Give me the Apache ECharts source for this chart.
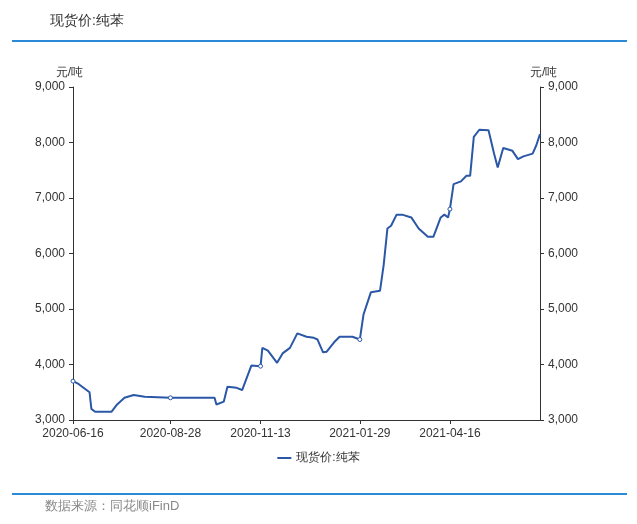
<!DOCTYPE html><html><head><meta charset="utf-8">
<script src="https://cdn.jsdelivr.net/npm/echarts@6/dist/echarts.min.js"></script>
<style>html,body{margin:0;padding:0;background:#fff}#c{width:637px;height:524px}</style></head><body><div id="c"></div>
<script>
const startDate='2020-06-16', endDate='2021-06-30';
const holidays=['2020-10-01','2020-10-02','2020-10-05','2020-10-06','2020-10-07','2020-10-08','2021-01-01','2021-02-11','2021-02-12','2021-02-15','2021-02-16','2021-02-17','2021-04-05','2021-05-03','2021-05-04','2021-05-05','2021-06-14'];
const tickLabels=['2020-06-16','2020-08-28','2020-11-13','2021-01-29','2021-04-16'];
const keyDates=['2020-06-16','2020-06-19','2020-06-25','2020-06-29','2020-06-30','2020-07-02','2020-07-15','2020-07-20','2020-07-24','2020-07-31','2020-08-10','2020-08-19','2020-08-28','2020-10-09','2020-10-12','2020-10-16','2020-10-20','2020-10-27','2020-10-30','2020-11-06','2020-11-13','2020-11-16','2020-11-19','2020-11-26','2020-12-01','2020-12-07','2020-12-11','2020-12-14','2020-12-18','2020-12-24','2020-12-28','2020-12-31','2021-01-05','2021-01-11','2021-01-14','2021-01-25','2021-01-29','2021-02-02','2021-02-08','2021-02-22','2021-02-24','2021-02-26','2021-03-02','2021-03-05','2021-03-10','2021-03-17','2021-03-23','2021-03-30','2021-04-02','2021-04-09','2021-04-13','2021-04-15','2021-04-16','2021-04-20','2021-04-26','2021-04-29','2021-05-06','2021-05-10','2021-05-13','2021-05-20','2021-05-25','2021-05-27','2021-06-01','2021-06-08','2021-06-11','2021-06-17','2021-06-24','2021-06-28','2021-06-30'];
const keyValues=[3700,3650,3550,3500,3200,3150,3150,3280,3400,3450,3420,3410,3400,3400,3280,3330,3600,3580,3540,3980,3970,4300,4250,4030,4200,4300,4560,4550,4500,4480,4450,4220,4230,4400,4500,4500,4450,4900,5300,5330,5800,6450,6500,6700,6700,6650,6450,6300,6300,6650,6700,6650,6800,7250,7300,7400,7400,8100,8230,8220,7800,7550,7900,7850,7700,7750,7800,7950,8150];
const yTicks=[3000,4000,5000,6000,7000,8000,9000];

const fmt=d=>d.toISOString().slice(0,10);
const cats=[];
for(let d=new Date(startDate+'T00:00:00Z');fmt(d)<=endDate;d.setUTCDate(d.getUTCDate()+1)){
  const w=d.getUTCDay(); const s=fmt(d);
  if(w!==0&&w!==6&&!holidays.includes(s)) cats.push(s);
}
const data=cats.map(c=>{const i=keyDates.indexOf(c);
  if(i<0) return null;
  return tickLabels.includes(c)?{value:keyValues[i],symbol:'circle',symbolSize:4,itemStyle:{color:'#fff',borderColor:'#2b57a7',borderWidth:1}}:{value:keyValues[i],symbol:'none'};
});
const ch=echarts.init(document.getElementById('c'));
const axisY=(pos)=>({type:'value',position:pos,min:3000,max:9000,interval:1000,name:'元/吨',nameGap:8,
  nameTextStyle:{color:'#333',fontSize:12,align:pos==='left'?'right':'left',padding:pos==='left'?[0,-10,0,0]:[0,0,0,-10]},
  axisLine:{show:true,lineStyle:{color:'#333'}},axisTick:{show:true,length:4},splitLine:{show:false},
  axisLabel:{color:'#333',fontSize:12,formatter:v=>v.toLocaleString('en-US')}});
ch.setOption({
  animation:false,
  title:{text:'现货价:纯苯',left:45,top:9,textStyle:{fontSize:14,fontWeight:'normal',color:'#333'}},
  graphic:[
    {type:'line',shape:{x1:12,y1:41,x2:627,y2:41},style:{stroke:'#2b8ad8',lineWidth:2}},
    {type:'line',shape:{x1:12,y1:494,x2:627,y2:494},style:{stroke:'#2b8ad8',lineWidth:2}},
    {type:'text',left:45,top:500,style:{text:'数据来源：同花顺iFinD',fill:'#888',fontSize:13}}
  ],
  legend:{bottom:55,left:'center',itemWidth:14,itemHeight:2,icon:'rect',textStyle:{color:'#333',fontSize:12},data:['现货价:纯苯']},
  grid:{left:73,right:97,top:87,bottom:104},
  xAxis:{type:'category',data:cats,boundaryGap:false,
    axisLine:{lineStyle:{color:'#333'}},
    axisTick:{interval:(i,v)=>tickLabels.includes(v),length:4},
    axisLabel:{interval:(i,v)=>tickLabels.includes(v),color:'#333',fontSize:12}},
  yAxis:[axisY('left'),axisY('right')],
  series:[{name:'现货价:纯苯',type:'line',data:data,connectNulls:true,showSymbol:true,
    lineStyle:{color:'#2b57a7',width:2},itemStyle:{color:'#2b57a7'}}]
});
</script></body></html>
